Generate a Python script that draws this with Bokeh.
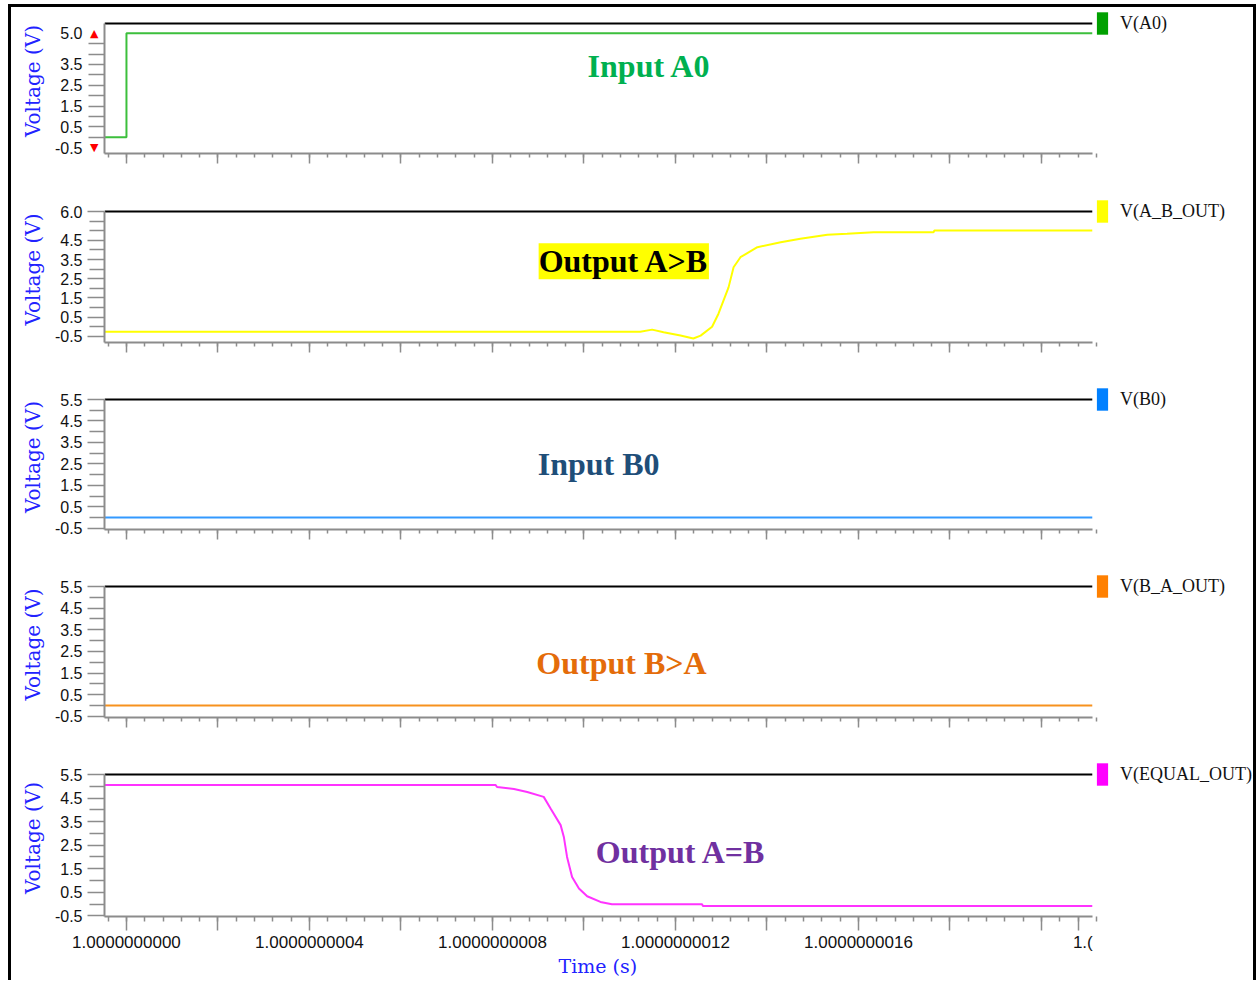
from bokeh.plotting import figure
from bokeh.layouts import column
from bokeh.models import (FixedTicker, PrintfTickFormatter, Label, Legend, LegendItem,
                          Range1d, LinearAxis, Title)
from bokeh.embed import file_html
from bokeh.resources import INLINE

# ---------------- data (time in ns after t = 1.0 s, voltage in V) ----------------
t_a0 = [-0.048, 0.0, 0.0, 2.111]
v_a0 = [0.0, 0.0, 5.0, 5.0]

t_ab = [-0.048, 1.123, 1.149, 1.174, 1.211, 1.239, 1.255, 1.280, 1.294, 1.316, 1.327,
        1.342, 1.379, 1.430, 1.473, 1.532, 1.575, 1.633, 1.764, 1.766, 2.111]
v_ab = [-0.26, -0.26, -0.15, -0.29, -0.46, -0.61, -0.46, 0.0, 0.68, 2.05, 3.10,
        3.62, 4.14, 4.40, 4.58, 4.79, 4.84, 4.92, 4.92, 5.01, 5.01]

t_b0 = [-0.048, 2.111]
v_b0 = [0.0, 0.0]

t_ba = [-0.048, 2.111]
v_ba = [0.0, 0.0]

t_eq = [-0.048, 0.807, 0.810, 0.847, 0.876, 0.912, 0.927, 0.949, 0.956, 0.963, 0.974,
        0.989, 1.007, 1.036, 1.061, 1.258, 1.260, 2.111]
v_eq = [5.05, 5.05, 4.97, 4.88, 4.76, 4.55, 4.06, 3.35, 2.85, 2.00, 1.15,
        0.66, 0.33, 0.09, -0.01, -0.01, -0.08, -0.08]

x_major_ticks = [0.0, 0.2, 0.4, 0.6, 0.8, 1.0, 1.2, 1.4, 1.6, 1.8, 2.0, 2.08]
x_tick_labels = ["1.0000000000", "", "1.0000000004", "", "1.0000000008", "",
                 "1.0000000012", "", "1.0000000016", "", "", "\u00a0\u00a01.("]
x_minor_ticks = [round(-0.04 + 0.04 * i, 2) for i in range(55)]

legend_names = ["V(A0)", "V(A_B_OUT)", "V(B0)", "V(B_A_OUT)", "V(EQUAL_OUT)"]
annotations = ["Input A0", "Output A>B", "Input B0", "Output B>A", "Output A=B"]
scroll_marks = {5.0: "\u25B2", -0.5: "\u25BC"}   # red scroll arrows on the first axis

# y: (bottom of axis, value of the black top line); fh: pixel height between them
panels = [
    dict(t=t_a0, v=v_a0, color="#3cbf3c", swatch="#00a000", y=(-0.78, 5.47), fh=130,
         labeled=[5.0, 3.5, 2.5, 1.5, 0.5, -0.5], minor=[4.5, 4.0, 3.0, 2.0, 1.0, 0.0],
         h=188, top=16, bottom=42, ann_x=1.143, ann_y=3.42, ann_color="#00b050", ann_bg=None),
    dict(t=t_ab, v=v_ab, color="#ffff00", swatch="#ffff00", y=(-0.82, 6.0), fh=131,
         labeled=[6.0, 4.5, 3.5, 2.5, 1.5, 0.5, -0.5], minor=[5.5, 5.0, 4.0, 3.0, 2.0, 1.0, 0.0],
         h=188, top=16, bottom=41, ann_x=1.087, ann_y=3.41, ann_color="#000000", ann_bg="#ffff00"),
    dict(t=t_b0, v=v_b0, color="#3399ff", swatch="#0080ff", y=(-0.56, 5.5), fh=130,
         labeled=[5.5, 4.5, 3.5, 2.5, 1.5, 0.5, -0.5], minor=[5.0, 4.0, 3.0, 2.0, 1.0, 0.0],
         h=187, top=16, bottom=41, ann_x=1.032, ann_y=2.49, ann_color="#1f4e79", ann_bg=None),
    dict(t=t_ba, v=v_ba, color="#f7921e", swatch="#ff8000", y=(-0.55, 5.5), fh=131,
         labeled=[5.5, 4.5, 3.5, 2.5, 1.5, 0.5, -0.5], minor=[5.0, 4.0, 3.0, 2.0, 1.0, 0.0],
         h=185, top=16, bottom=38, ann_x=1.082, ann_y=1.99, ann_color="#e46c0a", ann_bg=None),
    dict(t=t_eq, v=v_eq, color="#ff33ff", swatch="#ff00ff", y=(-0.53, 5.5), fh=142,
         labeled=[5.5, 4.5, 3.5, 2.5, 1.5, 0.5, -0.5], minor=[5.0, 4.0, 3.0, 2.0, 1.0, 0.0],
         h=225, top=19, bottom=64, ann_x=1.212, ann_y=2.20, ann_color="#7030a0", ann_bg=None),
]

FIG_W = 1242
LEFT = 93
EXT = 15                      # extra frame space above the top line (for the legend swatch)
X_START = -0.048
X_END = 2.4634                # frame reaches into the legend area on the right
AXIS_BLUE = "#2222ff"
AXIS_GRAY = "#8c8c8c"


def style_tick_axis(ax, bounds):
    ax.bounds = bounds
    ax.major_tick_in = 0
    ax.minor_tick_in = 0
    ax.major_tick_line_color = AXIS_GRAY
    ax.minor_tick_line_color = AXIS_GRAY
    ax.major_tick_line_width = 1.5
    ax.minor_tick_line_width = 1.5
    ax.axis_line_color = AXIS_GRAY
    ax.axis_line_width = 2


def style_label_axis(ax, standoff):
    ax.formatter = PrintfTickFormatter(format="%.1f")
    ax.major_label_standoff = standoff
    ax.major_label_text_font = "Liberation Sans"
    ax.major_label_text_font_size = "16px"
    ax.major_label_text_color = "#111111"
    ax.axis_label = "Voltage (V)"
    ax.axis_label_text_font = "DejaVu Serif"
    ax.axis_label_text_font_size = "20px"
    ax.axis_label_text_font_style = "normal"
    ax.axis_label_text_color = AXIS_BLUE
    ax.axis_label_standoff = 7


x_range = Range1d(X_START, X_END)
figs = []
for i, pn in enumerate(panels):
    last = i == len(panels) - 1
    first = i == 0
    y0, ytop = pn["y"]
    y_end = ytop + EXT * (ytop - y0) / pn["fh"]
    frame_h = pn["fh"] + EXT
    p = figure(width=FIG_W, height=pn["h"], x_range=x_range, title=None,
               y_range=Range1d(y0, y_end), output_backend="svg", toolbar_location=None,
               y_axis_location=None if first else "left",
               min_border_left=LEFT, min_border_right=0,
               min_border_top=pn["top"] - EXT, min_border_bottom=pn["bottom"])
    p.outline_line_color = None
    p.xgrid.visible = False
    p.ygrid.visible = False
    p.background_fill_color = "white"
    p.border_fill_color = "white"

    p.line(pn["t"], pn["v"], line_color=pn["color"], line_width=2)

    # black top line of the panel
    p.segment(x0=[X_START], y0=[ytop], x1=[pn["t"][-1]], y1=[ytop],
              line_color="black", line_width=2)

    # y axis
    if first:
        marks = list(scroll_marks)
        others = [v for v in pn["labeled"] + pn["minor"] if v not in scroll_marks]
        ax_in = LinearAxis(ticker=FixedTicker(ticks=marks, minor_ticks=others))
        style_tick_axis(ax_in, (y0, ytop))
        ax_in.major_tick_out = 0
        ax_in.minor_tick_out = 16
        ax_in.major_label_overrides = scroll_marks
        ax_in.major_label_standoff = -10
        ax_in.major_label_text_font = "DejaVu Sans"
        ax_in.major_label_text_font_size = "11px"
        ax_in.major_label_text_color = "red"
        p.add_layout(ax_in, "left")
        ax_out = LinearAxis(ticker=FixedTicker(ticks=pn["labeled"], minor_ticks=[]))
        ax_out.axis_line_color = None
        ax_out.major_tick_line_color = None
        ax_out.minor_tick_line_color = None
        ax_out.major_tick_out = 0
        ax_out.major_tick_in = 0
        ax_out.minor_tick_out = 0
        ax_out.minor_tick_in = 0
        style_label_axis(ax_out, 5)
        p.add_layout(ax_out, "left")
    else:
        ya = p.yaxis[0]
        ya.ticker = FixedTicker(ticks=pn["labeled"], minor_ticks=pn["minor"])
        style_tick_axis(ya, (y0, ytop))
        ya.major_tick_out = 17
        ya.minor_tick_out = 15
        style_label_axis(ya, 5)

    # x axis
    xa = p.xaxis[0]
    style_tick_axis(xa, (X_START, pn["t"][-1]))
    if last:
        xa.ticker = FixedTicker(ticks=x_major_ticks, minor_ticks=x_minor_ticks)
        xa.major_tick_out = 14
        xa.minor_tick_out = 5
        xa.major_label_overrides = dict(zip(x_major_ticks, x_tick_labels))
        xa.major_label_standoff = 2
        xa.major_label_text_font = "Liberation Sans"
        xa.major_label_text_font_size = "17px"
        xa.major_label_text_color = "#111111"
        p.add_layout(Title(text="Time (s)", align="left", offset=454, standoff=-3,
                           text_font="DejaVu Serif", text_font_size="19px",
                           text_font_style="normal", text_color=AXIS_BLUE), "below")
    else:
        xa.ticker = FixedTicker(ticks=x_major_ticks[:-1], minor_ticks=x_minor_ticks)
        xa.major_tick_out = 10
        xa.minor_tick_out = 4
        xa.major_label_overrides = {tk: "" for tk in x_major_ticks[:-1]}
        xa.major_label_text_font_size = "1px"

    # legend swatch + name, right of the traces, centred on the black top line
    r = p.rect(x=pn["t"][:1], y=pn["v"][:1], width=0, height=0,
               fill_color=pn["swatch"], line_color=None)
    leg = Legend(items=[LegendItem(label=legend_names[i], renderers=[r])],
                 location=(991, frame_h - EXT - 14), padding=0, margin=0, spacing=0,
                 border_line_color=None, background_fill_alpha=0,
                 glyph_width=14, glyph_height=28, label_standoff=11,
                 label_text_font="Liberation Serif", label_text_font_size="18px",
                 label_text_color="#111111")
    p.add_layout(leg)

    # annotation text
    lab = Label(x=pn["ann_x"], y=pn["ann_y"], text=annotations[i],
                text_font="Liberation Serif", text_font_style="bold", text_font_size="32px",
                text_color=pn["ann_color"], text_align="center", text_baseline="alphabetic")
    if pn["ann_bg"]:
        lab.background_fill_color = pn["ann_bg"]
    p.add_layout(lab)
    figs.append(p)

layout = column(*figs, spacing=0, margin=(4, 0, 0, 8),
                styles={"border-left": "3px solid black", "border-top": "3px solid black",
                        "border-right": "3px solid black"})

open("out.html", "w").write(file_html(layout, INLINE))
